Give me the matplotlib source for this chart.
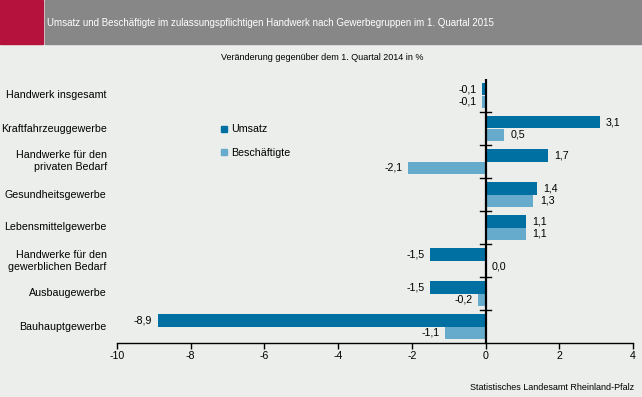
import matplotlib
matplotlib.use("Agg")
import matplotlib.pyplot as plt
from matplotlib.patches import Rectangle
from matplotlib.lines import Line2D
from matplotlib import font_manager
import numpy as np

categories = ["Handwerk insgesamt", "Kraftfahrzeuggewerbe", "Handwerke für den\nprivaten Bedarf",
              "Gesundheitsgewerbe", "Lebensmittelgewerbe", "Handwerke für den\ngewerblichen Bedarf",
              "Ausbaugewerbe", "Bauhauptgewerbe"]
umsatz = [-0.1, 3.1, 1.7, 1.4, 1.1, -1.5, -1.5, -8.9]
beschaeftigte = [-0.1, 0.5, -2.1, 1.3, 1.1, 0.0, -0.2, -1.1]
xticks = [-10, -8, -6, -4, -2, 0, 2, 4]

plt.rcParams['font.family'] = ['Liberation Sans', 'DejaVu Sans']
names = {f.name for f in font_manager.fontManager.ttflist}
narrow = 'Liberation Sans Narrow' in names

BG = "#ECEEEC"
C1 = "#0070A3"
C2 = "#66ABCB"
FS = 7.7

W, H = 642, 397
fig = plt.figure(figsize=(W/100, H/100), dpi=100, facecolor=BG)

# header
fig.patches.append(Rectangle((0, 1-44/H), 43/W, 44/H, transform=fig.transFigure, color="#B5123E", zorder=0))
fig.patches.append(Rectangle((45/W, 1-44/H), 1-45/W, 44/H, transform=fig.transFigure, color="#878787", zorder=0))
title = "Umsatz und Beschäftigte im zulassungspflichtigen Handwerk nach Gewerbegruppen im 1. Quartal 2015"
if narrow:
    fig.text(47/W, 1-23/H, title, color="white", fontsize=8.4, va="center", ha="left",
             family=['Liberation Sans Narrow', 'DejaVu Sans'])
else:
    fig.text(47/W, 1-23/H, title, color="white", fontsize=7.0, va="center", ha="left")
fig.text(322/W, 1-58/H, "Veränderung gegenüber dem 1. Quartal 2014 in %", fontsize=6.5, ha="center", va="center")
fig.text(634/W, 1-387/H, "Statistisches Landesamt Rheinland-Pfalz", fontsize=6.5, ha="right", va="center")

ax = fig.add_axes([117/W, 1-343/H, 516/W, 264/H])
ax.set_facecolor(BG)
y = np.arange(len(categories))
bw = 0.38
ax.barh(y - bw/2, umsatz, height=bw, color=C1, zorder=2)
ax.barh(y + bw/2, beschaeftigte, height=bw, color=C2, zorder=2)

def fmt(v):
    return f"{v:.1f}".replace(".", ",")

for vals, off in ((umsatz, -bw/2), (beschaeftigte, bw/2)):
    for i, v in enumerate(vals):
        if v >= 0:
            ax.annotate(fmt(v), (v, i + off), xytext=(4.5, 0), textcoords="offset points",
                        ha="left", va="center", fontsize=FS)
        else:
            ax.annotate(fmt(v), (v, i + off), xytext=(-4, 0), textcoords="offset points",
                        ha="right", va="center", fontsize=FS)

ax.set_xlim(-10, 4)
ax.set_ylim(len(categories) - 0.5, -0.5)
ax.set_xticks(xticks)
ax.set_xticklabels([str(t) for t in xticks], fontsize=FS)
ax.tick_params(axis="x", direction="out", length=4, width=1, pad=2)
ax.set_yticks([])
for s in ("top", "right", "left"):
    ax.spines[s].set_visible(False)
ax.spines["bottom"].set_linewidth(1.0)
ax.axvline(0, color="black", lw=1.6, zorder=3)
for b in np.arange(0.5, len(categories) - 0.5, 1.0):
    ax.plot([-0.15, 0.15], [b, b], color="black", lw=1, zorder=3)

for i, c in enumerate(categories):
    ax.text(-0.02, i, c, transform=ax.get_yaxis_transform(), ha="right", va="center",
            fontsize=FS, linespacing=1.25)

handles = [Line2D([], [], marker="s", linestyle="", color=C1, markersize=4.5),
           Line2D([], [], marker="s", linestyle="", color=C2, markersize=4.5)]
fig.legend(handles, ["Umsatz", "Beschäftigte"], loc="upper left", bbox_to_anchor=(217/W, 1-120/H),
           frameon=False, fontsize=FS, handlelength=0.6, handletextpad=0.3, labelspacing=1.3,
           borderaxespad=0)

fig.savefig("out.png", dpi=100, facecolor=BG)
